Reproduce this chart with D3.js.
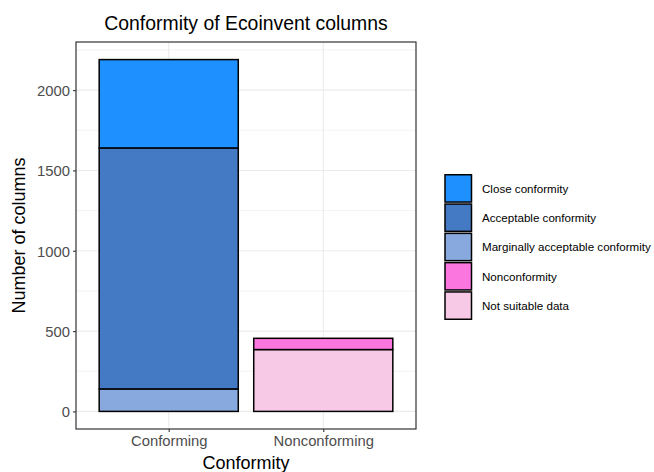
<!DOCTYPE html>
<html><head><meta charset="utf-8">
<script src="https://cdn.jsdelivr.net/npm/d3@7"></script>
<style>body{margin:0;background:#fff}svg{display:block}text{font-family:"Liberation Sans",Arial,sans-serif}</style>
</head><body>
<script>
const categories = ["Conforming", "Nonconforming"];
const levels = ["Close conformity", "Acceptable conformity", "Marginally acceptable conformity", "Nonconformity", "Not suitable data"];
const colors = ["#1e90ff", "#4479c4", "#87a9de", "#fc76e0", "#f8c9e6"];
// values per level, for [Conforming, Nonconforming]
const closeConformity = [550, 0];
const acceptableConformity = [1500, 0];
const marginalConformity = [140, 0];
const nonconformity = [0, 70];
const notSuitable = [0, 385];
const yTicks = [0, 500, 1000, 1500, 2000];
const yMinorTicks = [250, 750, 1250, 1750, 2250];

const series = [closeConformity, acceptableConformity, marginalConformity, nonconformity, notSuitable];
const W = 654, H = 472;
const P = {l: 76, r: 416, t: 42, b: 429};
const svg = d3.select("body").append("svg").attr("width", W).attr("height", H);

const rows = categories.map((c, i) => {
  const r = {cat: c};
  levels.forEach((l, j) => r[l] = series[j][i]);
  return r;
});
const stack = d3.stack().keys(levels.slice().reverse())(rows);
const maxTotal = d3.max(rows, r => d3.sum(levels, l => r[l]));
const ex = maxTotal * 0.05;
const y = d3.scaleLinear().domain([-ex, maxTotal + ex]).range([P.b, P.t]);
const xPos = d3.scaleOrdinal().domain(categories).range([1, 2]);
const x = d3.scaleLinear().domain([0.4, 2.6]).range([P.l, P.r]);
const color = d3.scaleOrdinal().domain(levels).range(colors);

// grid
const g = svg.append("g");
g.selectAll(".mn").data(yMinorTicks.filter(v => y(v) > P.t)).join("line")
  .attr("x1", P.l).attr("x2", P.r).attr("y1", d => y(d)).attr("y2", d => y(d))
  .attr("stroke", "#ebebeb").attr("stroke-width", 0.6);
g.selectAll(".mj").data(yTicks).join("line")
  .attr("x1", P.l).attr("x2", P.r).attr("y1", d => y(d)).attr("y2", d => y(d))
  .attr("stroke", "#ebebeb").attr("stroke-width", 1.1);
g.selectAll(".vx").data(categories).join("line")
  .attr("y1", P.t).attr("y2", P.b).attr("x1", d => x(xPos(d))).attr("x2", d => x(xPos(d)))
  .attr("stroke", "#ebebeb").attr("stroke-width", 1.1);

// bars
stack.forEach(layer => {
  svg.append("g").selectAll("rect").data(layer.filter(d => d[1] - d[0] > 0)).join("rect")
    .attr("x", d => x(xPos(d.data.cat) - 0.45))
    .attr("width", d => x(xPos(d.data.cat) + 0.45) - x(xPos(d.data.cat) - 0.45))
    .attr("y", d => y(d[1]))
    .attr("height", d => y(d[0]) - y(d[1]))
    .attr("fill", color(layer.key))
    .attr("stroke", "#000").attr("stroke-width", 1.5);
});

// panel border
svg.append("rect").attr("x", P.l).attr("y", P.t).attr("width", P.r - P.l).attr("height", P.b - P.t)
  .attr("fill", "none").attr("stroke", "#333333").attr("stroke-width", 1.2);

// axes
const yAxis = svg.append("g").attr("transform", `translate(${P.l},0)`)
  .call(d3.axisLeft(y).tickValues(yTicks).tickFormat(d3.format("d")).tickSize(3).tickPadding(3));
const xAxis = svg.append("g").attr("transform", `translate(0,${P.b})`)
  .call(d3.axisBottom(x).tickValues(categories.map(c => xPos(c))).tickFormat((d, i) => categories[i]).tickSize(3).tickPadding(3));
[yAxis, xAxis].forEach(a => {
  a.select(".domain").remove();
  a.selectAll(".tick line").attr("stroke", "#333333").attr("stroke-width", 1.1);
  a.selectAll(".tick text").attr("fill", "#4d4d4d").style("font-size", "14.8px").style("font-family", "Liberation Sans, Arial, sans-serif");
});
yAxis.selectAll(".tick text").attr("dy", "0.36em");
xAxis.selectAll(".tick text").attr("dy", "0.72em");

// titles
const cx = (P.l + P.r) / 2;
svg.append("text").attr("x", cx).attr("y", 30).attr("text-anchor", "middle")
  .style("font-size", "19.4px").attr("fill", "#000").text("Conformity of Ecoinvent columns");
svg.append("text").attr("x", cx).attr("y", 469).attr("text-anchor", "middle")
  .style("font-size", "18px").attr("fill", "#000").text("Conformity");
svg.append("text").attr("transform", `translate(25,${(P.t + P.b) / 2}) rotate(-90)`).attr("text-anchor", "middle")
  .style("font-size", "18px").attr("fill", "#000").text("Number of columns");

// legend
const lg = svg.append("g");
const keyH = 29.3, keyTop = 174;
levels.forEach((l, i) => {
  lg.append("rect").attr("x", 445).attr("y", keyTop + i * keyH + 0.75).attr("width", 26.5).attr("height", keyH - 2)
    .attr("fill", color(l)).attr("stroke", "#000").attr("stroke-width", 1.5);
  lg.append("text").attr("x", 482).attr("y", keyTop + i * keyH + keyH / 2).attr("dy", "0.35em")
    .style("font-size", "11.6px").attr("fill", "#000").text(l);
});
</script>
</body></html>
